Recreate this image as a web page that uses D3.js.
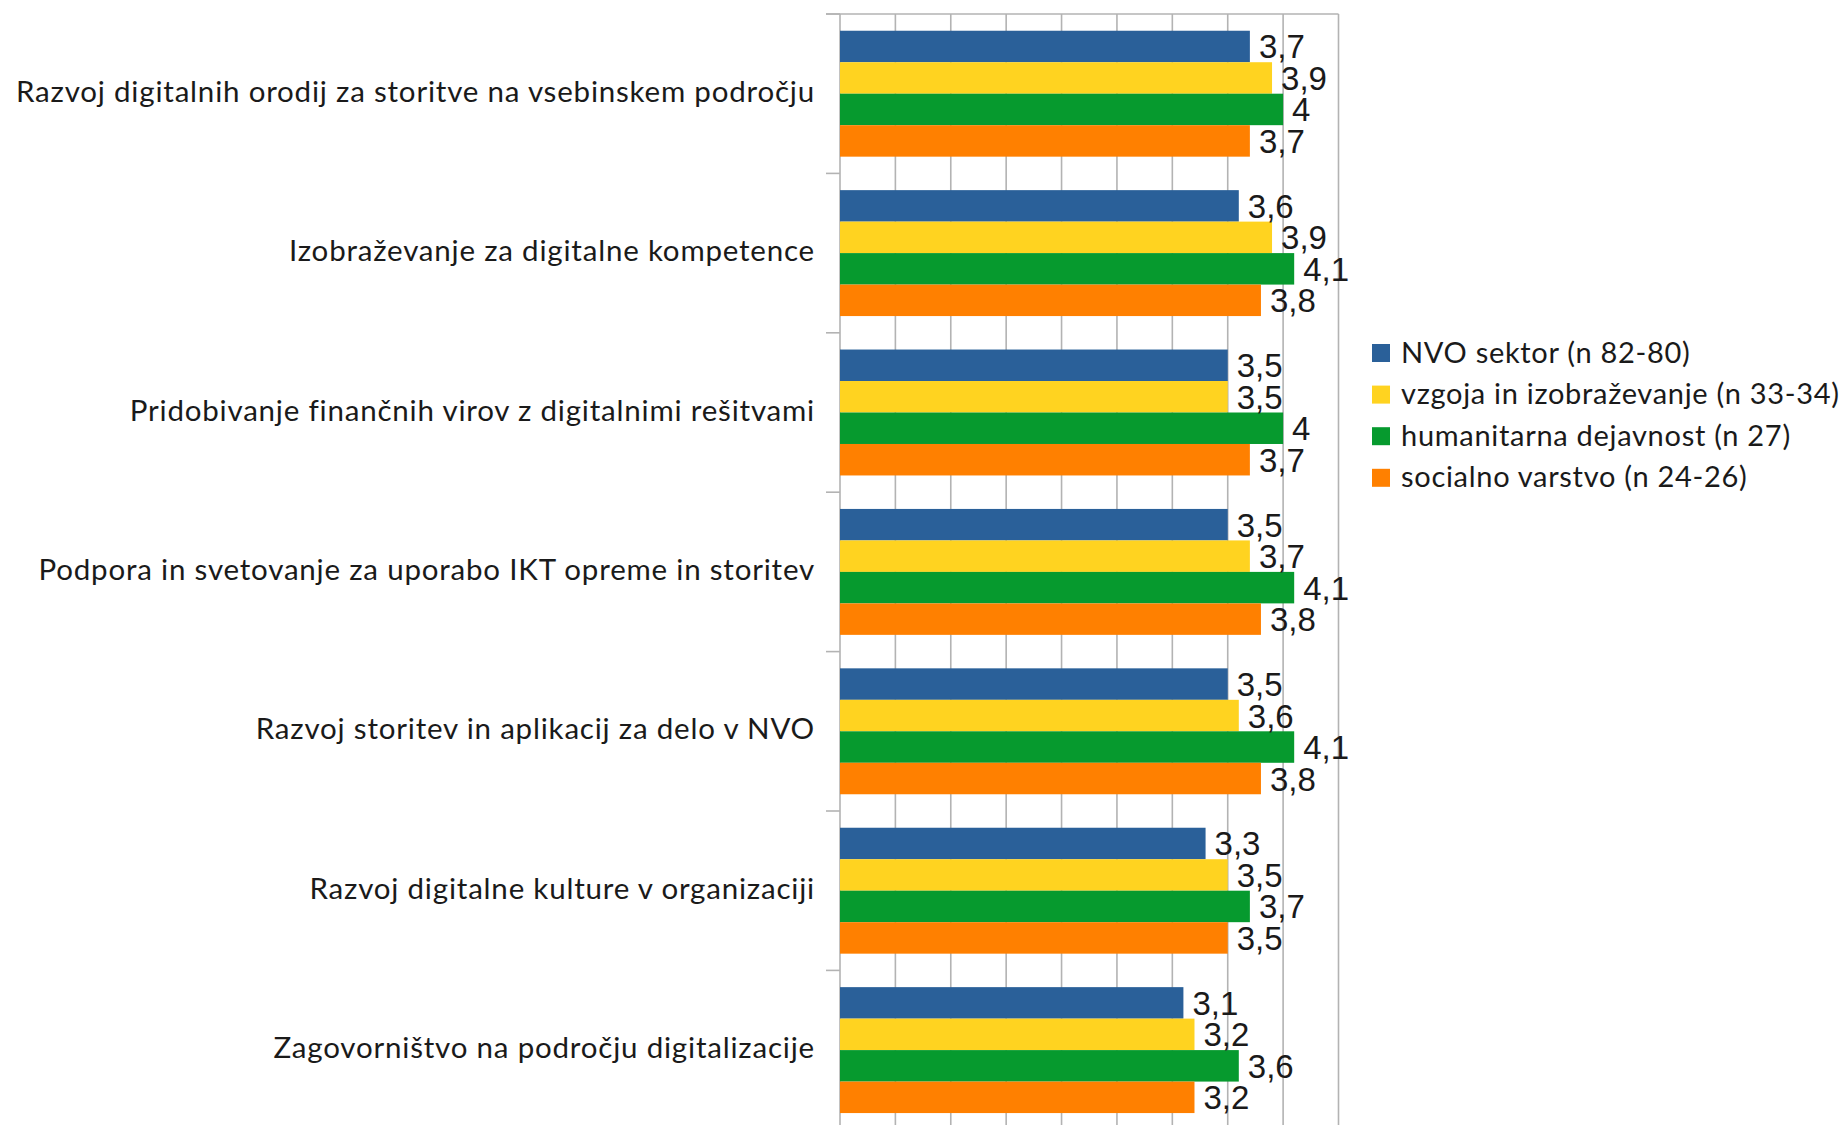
<!DOCTYPE html>
<html>
<head>
<meta charset="utf-8">
<script src="https://cdn.jsdelivr.net/npm/d3@7"></script>
<style>
  body { margin: 0; background: #fff; }
</style>
</head>
<body>
<script>
const categories = [
    "Razvoj digitalnih orodij za storitve na vsebinskem področju",
    "Izobraževanje za digitalne kompetence",
    "Pridobivanje finančnih virov z digitalnimi rešitvami",
    "Podpora in svetovanje za uporabo IKT opreme in storitev",
    "Razvoj storitev in aplikacij za delo v NVO",
    "Razvoj digitalne kulture v organizaciji",
    "Zagovorništvo na področju digitalizacije"
];
const seriesNames = [
    "NVO sektor (n 82-80)",
    "vzgoja in izobraževanje (n 33-34)",
    "humanitarna dejavnost (n 27)",
    "socialno varstvo (n 24-26)"
];
const nvo = [3.7, 3.6, 3.5, 3.5, 3.5, 3.3, 3.1];
const vzgoja = [3.9, 3.9, 3.5, 3.7, 3.6, 3.5, 3.2];
const humanitarna = [4, 4.1, 4, 4.1, 4.1, 3.7, 3.6];
const socialno = [3.7, 3.8, 3.7, 3.8, 3.8, 3.5, 3.2];
const seriesColors = ["#2a6099", "#ffd320", "#069a2e", "#ff8000"];

const width = 1846, height = 1125;
const plotLeft = 840, plotRight = 1338.5, plotTop = 14, step = 159.4;
const plotBottom = plotTop + step * categories.length;

const series = [nvo, vzgoja, humanitarna, socialno];
const rows = categories.map((c, i) => ({
    name: c,
    values: series.map((s, j) => ({ key: seriesNames[j], value: s[i], color: seriesColors[j] }))
}));

const svg = d3.select("body").append("svg")
    .attr("width", width)
    .attr("height", height)
    .attr("viewBox", [0, 0, width, height]);

const x = d3.scaleLinear([0, 4.5], [plotLeft, plotRight]);
const y0 = d3.scaleBand(categories, [plotTop, plotBottom]).paddingInner(0.21).paddingOuter(0.105);
const y1 = d3.scaleBand(seriesNames, [0, y0.bandwidth()]);

// grid
svg.append("g")
    .attr("stroke", "#b3b3b3")
    .attr("stroke-width", 1.6)
    .selectAll("line")
    .data(x.ticks(9))
    .join("line")
    .attr("x1", d => x(d)).attr("x2", d => x(d))
    .attr("y1", plotTop).attr("y2", plotBottom);

svg.append("line")
    .attr("x1", plotLeft - 14).attr("x2", plotRight)
    .attr("y1", plotTop).attr("y2", plotTop)
    .attr("stroke", "#b3b3b3").attr("stroke-width", 1.6);

// category ticks
svg.append("g")
    .attr("stroke", "#b3b3b3")
    .attr("stroke-width", 1.6)
    .selectAll("line")
    .data(d3.range(categories.length + 1))
    .join("line")
    .attr("x1", plotLeft - 14).attr("x2", plotLeft)
    .attr("y1", i => plotTop + i * step).attr("y2", i => plotTop + i * step);

// bars
const groups = svg.append("g")
    .selectAll("g")
    .data(rows)
    .join("g")
    .attr("transform", d => `translate(0,${y0(d.name)})`);

groups.selectAll("rect")
    .data(d => d.values)
    .join("rect")
    .attr("x", x(0))
    .attr("y", d => y1(d.key))
    .attr("width", d => x(d.value) - x(0))
    .attr("height", y1.bandwidth())
    .attr("fill", d => d.color);

groups.selectAll("text")
    .data(d => d.values)
    .join("text")
    .attr("x", d => x(d.value) + 9)
    .attr("y", d => y1(d.key) + y1.bandwidth() / 2 + 12)
    .attr("font-family", "Liberation Sans, Arial, sans-serif")
    .attr("font-size", 33)
    .attr("fill", "#1a1a1a")
    .text(d => String(d.value).replace(".", ","));

// category labels
svg.append("g")
    .selectAll("text")
    .data(categories)
    .join("text")
    .attr("x", 815)
    .attr("y", d => y0(d) + y0.bandwidth() / 2 + 8)
    .attr("text-anchor", "end")
    .attr("font-family", "Lato, sans-serif")
    .attr("font-size", 29.5)
    .attr("letter-spacing", 0.8)
    .attr("fill", "#1a1a1a")
    .text(d => d);

// legend
const legend = svg.append("g")
    .selectAll("g")
    .data(seriesNames)
    .join("g")
    .attr("transform", (d, i) => `translate(1372,${353 + i * 41.6})`);

legend.append("rect")
    .attr("x", 0).attr("y", -9)
    .attr("width", 18).attr("height", 18)
    .attr("fill", (d, i) => seriesColors[i]);

legend.append("text")
    .attr("x", 29)
    .attr("y", 9.5)
    .attr("font-family", "Lato, sans-serif")
    .attr("font-size", 29)
    .attr("letter-spacing", 0.7)
    .attr("fill", "#1a1a1a")
    .text(d => d);
</script>
</body>
</html>
